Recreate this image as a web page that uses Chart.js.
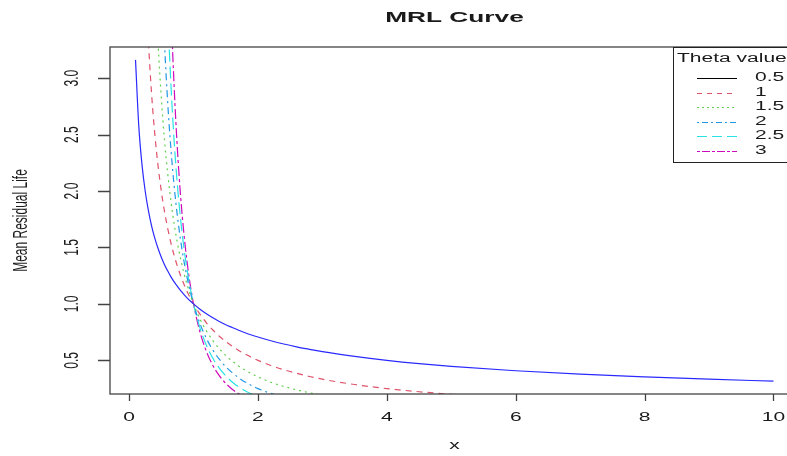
<!DOCTYPE html>
<html>
<head>
<meta charset="utf-8">
<script src="https://cdn.jsdelivr.net/npm/chart.js@4/dist/chart.umd.min.js"></script>
<style>
  html, body { margin: 0; padding: 0; background: #fff; overflow: hidden; }
  #wrap { position: absolute; left: 0; top: 0; width: 810px; height: 456px; }
</style>
</head>
<body>
<div id="wrap"><canvas id="mrlChart" width="810" height="456"></canvas></div>
<script>
// x grid shared by all curves
const xs = [0.1, 0.15, 0.2, 0.25, 0.3, 0.35, 0.4, 0.45, 0.5, 0.55, 0.6, 0.65, 0.7, 0.75,
  0.8, 0.85, 0.9, 0.95, 1.0, 1.1, 1.2, 1.3, 1.4, 1.5, 1.6, 1.7, 1.8, 1.9, 2.0, 2.2, 2.4,
  2.6, 2.8, 3.0, 3.5, 4.0, 4.5, 5.0, 6, 7, 8, 9, 10];

// mean residual life (null = outside the plot)
const theta05 = [3.162, 2.582, 2.236, 2.0, 1.826, 1.69, 1.581, 1.491, 1.414, 1.348, 1.291, 1.24, 1.195, 1.155,
  1.118, 1.085, 1.054, 1.026, 1.0, 0.953, 0.913, 0.877, 0.845, 0.816, 0.791, 0.767, 0.745, 0.725, 0.707, 0.674, 0.645,
  0.62, 0.598, 0.577, 0.535, 0.5, 0.471, 0.447, 0.408, 0.378, 0.354, 0.333, 0.316];
const theta1 = [null, null, null, 4.0, 3.333, 2.857, 2.5, 2.222, 2.0, 1.818, 1.667, 1.538, 1.429, 1.333,
  1.25, 1.176, 1.111, 1.053, 1.0, 0.909, 0.833, 0.769, 0.714, 0.667, 0.625, 0.588, 0.556, 0.526, 0.5, 0.455, 0.417,
  0.385, 0.357, 0.333, 0.286, 0.25, 0.222, 0.2, 0.167, null, null, null, null];
const theta15 = [null, null, null, null, null, null, 3.953, 3.313, 2.828, 2.452, 2.152, 1.908, 1.707, 1.54,
  1.398, 1.276, 1.171, 1.08, 1.0, 0.867, 0.761, 0.675, 0.604, 0.544, 0.494, 0.451, 0.414, 0.382, 0.354, 0.306, 0.269,
  0.239, 0.213, 0.192, null, null, null, null, null, null, null, null, null];
const theta2 = [null, null, null, null, null, null, null, null, 4.0, 3.306, 2.778, 2.367, 2.041, 1.778,
  1.563, 1.384, 1.235, 1.108, 1.0, 0.826, 0.694, 0.592, 0.51, 0.444, 0.391, 0.346, 0.309, 0.277, 0.25, 0.207, 0.174,
  null, null, null, null, null, null, null, null, null, null, null, null];
const theta25 = [null, null, null, null, null, null, null, null, null, 4.458, 3.586, 2.936, 2.439, 2.053,
  1.747, 1.501, 1.301, 1.137, 1.0, 0.788, 0.634, 0.519, 0.431, 0.363, 0.309, 0.265, 0.23, 0.201, 0.177, null, null,
  null, null, null, null, null, null, null, null, null, null, null, null];
const theta3 = [null, null, null, null, null, null, null, null, null, null, 4.63, 3.641, 2.915, 2.37,
  1.953, 1.628, 1.372, 1.166, 1.0, 0.751, 0.579, 0.455, 0.364, 0.296, 0.244, 0.204, 0.171, null, null, null, null,
  null, null, null, null, null, null, null, null, null, null, null, null];

const seriesLabels = ["0.5", "1", "1.5", "2", "2.5", "3"];
const seriesValues = [theta05, theta1, theta15, theta2, theta25, theta3];
const curveColors = ["#2a2aff", "#DF536B", "#61D04F", "#2297E6", "#28E2E5", "#CD0BBC"];
const legendColors = ["#000000", "#DF536B", "#61D04F", "#2297E6", "#28E2E5", "#CD0BBC"];
const curveDashes = [[], [6, 5], [2, 4], [2, 4, 7, 4], [12, 5], [3, 3, 10, 3]];
const legendDashes = [[], [5, 5], [2, 3], [2, 3, 6, 3], [10, 5], [3, 2, 8, 2]];

const xTicks = [0, 2, 4, 6, 8, 10];
const yTicks = [0.5, 1.0, 1.5, 2.0, 2.5, 3.0];
const yTickLabels = ["0.5", "1.0", "1.5", "2.0", "2.5", "3.0"];

const SX = 1.75; // the picture is stretched sideways
const FONT = '"Liberation Sans", Arial, sans-serif';

function drawText(ctx, str, x, y, font, align, rot) {
  ctx.save();
  ctx.translate(x, y);
  ctx.scale(SX, 1);
  if (rot) ctx.rotate(rot);
  ctx.font = font;
  ctx.fillStyle = "#1a1a1a";
  ctx.textAlign = align || "center";
  ctx.textBaseline = "middle";
  ctx.fillText(str, 0, 0);
  ctx.restore();
}

const rPlotDecor = {
  id: "rPlotDecor",
  afterDatasetsDraw(chart) {
    const ctx = chart.ctx;
    const area = chart.chartArea;
    const xs_ = chart.scales.x;
    const ys_ = chart.scales.y;

    ctx.save();
    ctx.strokeStyle = "#444";
    ctx.lineWidth = 1.3;
    ctx.strokeRect(area.left, area.top, area.right - area.left, area.bottom - area.top);

    // x ticks
    ctx.beginPath();
    xTicks.forEach((v) => {
      const px = Math.round(xs_.getPixelForValue(v)) + 0.5;
      ctx.moveTo(px, area.bottom);
      ctx.lineTo(px, area.bottom + 7);
    });
    // y ticks
    yTicks.forEach((v) => {
      const py = Math.round(ys_.getPixelForValue(v)) + 0.5;
      ctx.moveTo(area.left, py);
      ctx.lineTo(area.left - 12, py);
    });
    ctx.stroke();
    ctx.restore();

    xTicks.forEach((v) => {
      drawText(ctx, String(v), xs_.getPixelForValue(v), 418, "12px " + FONT, "center");
    });
    yTicks.forEach((v, i) => {
      drawText(ctx, yTickLabels[i], 72, ys_.getPixelForValue(v), "12px " + FONT, "center", -Math.PI / 2);
    });

    const midX = (area.left + area.right) / 2;
    const midY = (area.top + area.bottom) / 2;
    drawText(ctx, "MRL Curve", midX, 18, "bold 15px " + FONT, "center");
    drawText(ctx, "x", midX, 446, "12px " + FONT, "center");
    drawText(ctx, "Mean Residual Life", 21, midY, "12px " + FONT, "center", -Math.PI / 2);

    // legend
    const lx = 673, ly = area.top, lw = area.right - 673, lh = 115;
    ctx.save();
    ctx.fillStyle = "#fff";
    ctx.fillRect(lx, ly, lw, lh);
    ctx.strokeStyle = "#222";
    ctx.lineWidth = 1;
    ctx.strokeRect(lx + 0.5, ly + 0.5, lw, lh);
    ctx.restore();
    drawText(ctx, "Theta values", 677, 59, "12px " + FONT, "left");
    seriesLabels.forEach((lab, i) => {
      const yy = 78 + i * 14.5;
      ctx.save();
      ctx.strokeStyle = legendColors[i];
      ctx.lineWidth = 1;
      ctx.setLineDash(legendDashes[i]);
      ctx.beginPath();
      ctx.moveTo(697, Math.round(yy) + 0.5);
      ctx.lineTo(737, Math.round(yy) + 0.5);
      ctx.stroke();
      ctx.restore();
      drawText(ctx, lab, 755, yy, "12px " + FONT, "left");
    });
  },
};

const datasets = seriesValues.map((vals, i) => ({
  label: seriesLabels[i],
  data: xs.map((x, j) => ({ x: x, y: vals[j] })).filter((p) => p.y !== null),
  borderColor: curveColors[i],
  borderDash: curveDashes[i],
  borderWidth: 1.2,
  pointRadius: 0,
  fill: false,
  cubicInterpolationMode: "monotone",
}));

new Chart(document.getElementById("mrlChart").getContext("2d"), {
  type: "line",
  data: { datasets: datasets },
  options: {
    responsive: false,
    animation: false,
    layout: { padding: { left: 110, right: 11, top: 47, bottom: 62 } },
    scales: {
      x: { type: "linear", min: -0.296, max: 10.396, display: false },
      y: { type: "linear", min: 0.202, max: 3.276, display: false },
    },
    plugins: {
      legend: { display: false },
      tooltip: { enabled: false },
      title: { display: false },
    },
  },
  plugins: [rPlotDecor],
});
</script>
</body>
</html>
